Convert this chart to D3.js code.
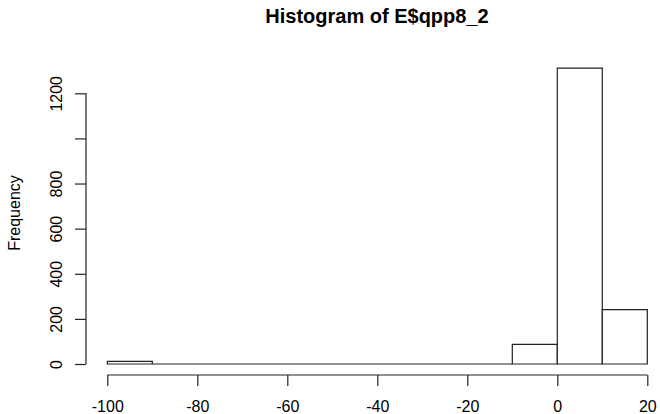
<!DOCTYPE html>
<html>
<head>
<meta charset="utf-8">
<script src="https://cdn.jsdelivr.net/npm/d3@7"></script>
<style>
  body { margin: 0; background: #fff; }
  svg { display: block; }
  text { font-family: "Liberation Sans", Arial, sans-serif; fill: #000; }
</style>
</head>
<body>
<svg id="chart" width="660" height="414"></svg>
<script>
// bins of width 10 from -100 to 20
var binStarts = [-100, -90, -80, -70, -60, -50, -40, -30, -20, -10, 0, 10];
var counts = [12, 0, 0, 0, 0, 0, 0, 0, 0, 87, 1312, 241];
var xTicks = [-100, -80, -60, -40, -20, 0, 20];
var yTicks = [0, 200, 400, 600, 800, 1000, 1200];
var yTickLabels = ['0', '200', '400', '600', '800', '', '1200'];
var binWidth = 10;

var svg = d3.select('#chart');

var x = d3.scaleLinear().domain([-100, 20]).range([107.3, 647.3]);
var y = d3.scaleLinear().domain([0, 1200]).range([364, 93.3]);

var stroke = '#222';
var font = '"Liberation Sans", Arial, sans-serif';

// bars (paths so that empty bins still show as a line on the baseline)
svg.selectAll('path.bar')
    .data(binStarts)
    .enter()
    .append('path')
    .attr('class', 'bar')
    .attr('d', function (d, i) {
        var x0 = x(d), x1 = x(d + binWidth);
        return 'M' + x0 + ',' + y(0) + 'V' + y(counts[i]) + 'H' + x1 + 'V' + y(0) + 'Z';
    })
    .style('fill', '#fff')
    .style('stroke', stroke)
    .style('stroke-width', 1.2);

// x axis
var xAxis = d3.axisBottom(x)
    .tickValues(xTicks)
    .tickSize(11)
    .tickFormat(function (d) { return d; });

var gx = svg.append('g')
    .attr('transform', 'translate(0,375)')
    .call(xAxis);
gx.select('.domain').attr('d', 'M' + x(-100) + ',0H' + x(20)).style('stroke', stroke).style('stroke-width', 1.2);
gx.selectAll('.tick line').style('stroke', stroke).style('stroke-width', 1.2);
gx.selectAll('.tick text')
    .attr('y', 37)
    .attr('dy', null)
    .style('font-size', '16px')
    .style('font-family', font)
    .attr('fill', '#000');

// y axis
var yAxis = d3.axisLeft(y)
    .tickValues(yTicks)
    .tickSize(11)
    .tickFormat(function (d, i) { return yTickLabels[i]; });

var gy = svg.append('g')
    .attr('transform', 'translate(86,0)')
    .call(yAxis);
gy.select('.domain').attr('d', 'M0,' + y(0) + 'V' + y(1200)).style('stroke', stroke).style('stroke-width', 1.2);
gy.selectAll('.tick line').style('stroke', stroke).style('stroke-width', 1.2);
gy.selectAll('.tick text')
    .attr('x', null)
    .attr('dy', null)
    .attr('transform', 'translate(-24,0) rotate(-90)')
    .attr('text-anchor', 'middle')
    .style('font-size', '16px')
    .style('font-family', font)
    .attr('fill', '#000');

// y label
svg.append('text')
    .attr('transform', 'translate(20,213) rotate(-90)')
    .attr('text-anchor', 'middle')
    .style('font-size', '16px')
    .text('Frequency');

// title
svg.append('text')
    .attr('x', 377)
    .attr('y', 23)
    .attr('text-anchor', 'middle')
    .style('font-size', '20px')
    .style('font-weight', 'bold')
    .text('Histogram of E$qpp8_2');
</script>
</body>
</html>
